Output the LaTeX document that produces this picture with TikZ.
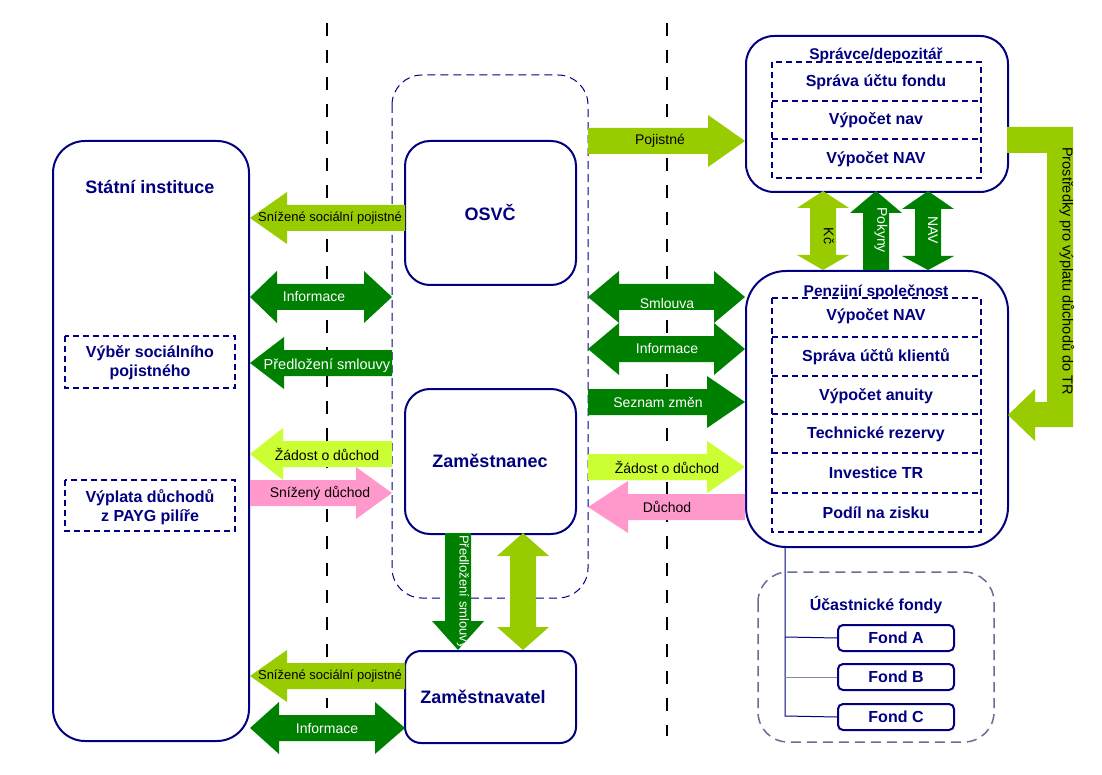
\documentclass[tikz,border=0pt]{standalone}
\usepackage{fontspec}
\setmainfont{Liberation Sans}
\definecolor{lgreen}{HTML}{99CC00}
\definecolor{dgreen}{HTML}{008000}
\definecolor{ygreen}{HTML}{CCFF33}
\definecolor{pinkc}{HTML}{FF99CC}
\definecolor{navyc}{HTML}{000080}
\definecolor{fundgray}{HTML}{6B6B95}
% horizontal single block arrow: fill, tail x, tip x, y, head-base x
\newcommand\blkH[5]{\fill[#1] (#2,#4-13) -- (#5,#4-13) -- (#5,#4-26) -- (#3,#4) -- (#5,#4+26) -- (#5,#4+13) -- (#2,#4+13) -- cycle;}
% horizontal double block arrow: fill, tip1 x, tip2 x, y, base1 x, base2 x
\newcommand\blkD[6]{\fill[#1] (#2,#4) -- (#5,#4-26) -- (#5,#4-13) -- (#6,#4-13) -- (#6,#4-26) -- (#3,#4) -- (#6,#4+26) -- (#6,#4+13) -- (#5,#4+13) -- (#5,#4+26) -- cycle;}
% vertical single block arrow: fill, x, tail y, tip y, head-base y
\newcommand\blkV[5]{\fill[#1] (#2-13,#3) -- (#2-13,#5) -- (#2-26,#5) -- (#2,#4) -- (#2+26,#5) -- (#2+13,#5) -- (#2+13,#3) -- cycle;}
% vertical double block arrow: fill, x, tip1 y, tip2 y, base1 y, base2 y
\newcommand\blkVD[6]{\fill[#1] (#2,#3) -- (#2-26,#5) -- (#2-13,#5) -- (#2-13,#6) -- (#2-26,#6) -- (#2,#4) -- (#2+26,#6) -- (#2+13,#6) -- (#2+13,#5) -- (#2+26,#5) -- cycle;}
\begin{document}
\begin{tikzpicture}[x=1pt,y=-1pt,
  mainbox/.style={draw=navyc, line width=2pt, fill=white, anchor=north west, inner sep=0pt},
  boxtitle/.style={font=\fontsize{18}{20}\selectfont\bfseries, text=navyc, inner sep=0pt},
  subtitle/.style={font=\fontsize{15.5}{18}\selectfont\bfseries, text=navyc, inner sep=0pt},
  rowlabel/.style={font=\fontsize{16}{19}\selectfont\bfseries, text=navyc, inner sep=0pt, align=center},
  arrlabel/.style={font=\fontsize{14}{16}\selectfont, inner sep=0pt},
  whitelbl/.style={arrlabel, text=white},
  blacklbl/.style={arrlabel, text=black},
  innerdash/.style={draw=navyc, line width=1.4pt, dash pattern=on 6pt off 4pt},
  sepline/.style={draw=black, line width=2.8pt, dash pattern=on 13pt off 14pt},
  groupdash/.style={draw=navyc, line width=1pt, dash pattern=on 8pt off 5pt},
  funddash/.style={draw=fundgray, line width=1.5pt, dash pattern=on 10pt off 6pt},
  fundbox/.style={draw=navyc, line width=2pt, rounded corners=5pt, minimum width=116pt, minimum height=26pt, inner sep=0pt, font=\fontsize{16}{19}\selectfont\bfseries, text=navyc},
  treeline/.style={draw=navyc, line width=1pt}
]
\fill[white] (0,0) rectangle (1102,775);
\useasboundingbox (0,0) rectangle (1102,775);

% separating dashed lines
\coordinate (s1top) at (327,23);
\coordinate (s1bot) at (327,708);
\coordinate (s2top) at (667,23);
\coordinate (s2bot) at (667,736);
\draw[sepline] (s1top) -- (s1bot);
\draw[sepline] (s2top) -- (s2bot);

% group around OSVC and Zamestnanec
\draw[groupdash, rounded corners=30pt] (392,75) rectangle (588,598);

% main boxes
\node[mainbox, rounded corners=32pt, minimum width=196pt, minimum height=600pt] (stat) at (52,140) {};
\node[boxtitle] (statT) at (150,187) {Státní instituce};
\draw[innerdash] (65,336) rectangle (235,388);
\node[rowlabel] (vyber) at (150,363) {Výběr sociálního\\pojistného};
\draw[innerdash] (65,480) rectangle (235,531);
\node[rowlabel] (vyplata) at (150,507) {Výplata důchodů\\z PAYG pilíře};

\node[mainbox, rounded corners=25pt, minimum width=171pt, minimum height=144pt] (osvc) at (404,140) {};
\node[boxtitle] (osvcT) at (490,213) {OSVČ};
\node[mainbox, rounded corners=25pt, minimum width=171pt, minimum height=145pt] (zam) at (404,388) {};
\node[boxtitle] (zamT) at (490,461) {Zaměstnanec};
\node[mainbox, rounded corners=16pt, minimum width=171pt, minimum height=92pt] (zav) at (404,650) {};
\node[boxtitle] (zavT) at (483,697) {Zaměstnavatel};

\node[mainbox, rounded corners=28pt, minimum width=262pt, minimum height=156pt] (spr) at (745,35) {};
\draw[innerdash] (772,62) rectangle (981,178);
\draw[innerdash] (772,101) -- (981,101);
\draw[innerdash] (772,139) -- (981,139);
\node[subtitle] (sprT) at (876,55) {Správce/depozitář};
\node[rowlabel] (spr1) at (876,82) {Správa účtu fondu};
\node[rowlabel] (spr2) at (876,120) {Výpočet nav};
\node[rowlabel] (spr3) at (876,159) {Výpočet NAV};

\node[mainbox, rounded corners=40pt, minimum width=262pt, minimum height=276pt] (pen) at (745,270) {};
\draw[innerdash] (772,298) rectangle (981,532);
\foreach \yy in {337,376,414,453,493} \draw[innerdash] (772,\yy) -- (981,\yy);
\node[subtitle] (penT) at (876,292) {Penzijní společnost};
\node[rowlabel] (pen1) at (876,316) {Výpočet NAV};
\node[rowlabel] (pen2) at (876,357) {Správa účtů klientů};
\node[rowlabel] (pen3) at (876,396) {Výpočet anuity};
\node[rowlabel] (pen4) at (876,434) {Technické rezervy};
\node[rowlabel] (pen5) at (876,473) {Investice TR};
\node[rowlabel] (pen6) at (876,513) {Podíl na zisku};

% participant funds
\draw[funddash, rounded corners=30pt] (758,572) rectangle (994,742);
\node[rowlabel] (ucT) at (876,605) {Účastnické fondy};
\node[fundbox, anchor=north west] (fa) at (837,624) {Fond A};
\node[fundbox, anchor=north west] (fb) at (837,663) {Fond B};
\node[fundbox, anchor=north west] (fc) at (837,703) {Fond C};
\coordinate (tree0) at (785,546);
\coordinate (treeA) at (785,637);
\coordinate (treeB) at (785,677);
\coordinate (treeC) at (785,716);
\draw[treeline] (tree0) -- (treeC) -- (fc.west);
\draw[treeline] (treeA) -- (fa.west);
\draw[treeline, draw=fundgray!80] (treeB) -- (fb.west);

% ---- left arrows ----
\blkH{lgreen}{405}{250}{218}{287}
\node[blacklbl, font=\fontsize{13}{15}\selectfont] (a1) at (330,218) {Snížené sociální pojistné};
\blkD{dgreen}{250}{392}{297}{277}{364}
\node[whitelbl] (a2) at (314,297) {Informace};
\blkH{dgreen}{392}{250}{363}{284}
\node[whitelbl, font=\fontsize{14.5}{16}\selectfont] (a3) at (327,366) {Předložení smlouvy};
\blkH{ygreen}{392}{250}{454}{283}
\node[blacklbl] (a4) at (327,454) {Žádost o důchod};
\blkH{pinkc}{250}{392}{493}{356}
\node[blacklbl] (a5) at (320,493) {Snížený důchod};
\blkH{lgreen}{405}{250}{676}{287}
\node[blacklbl, font=\fontsize{13}{15}\selectfont] (a6) at (330,676) {Snížené sociální pojistné};
\blkD{dgreen}{250}{405}{728}{279}{375}
\node[whitelbl] (a7) at (327,728) {Informace};

% ---- right arrows ----
\blkH{lgreen}{588}{745}{141}{708}
\node[blacklbl] (b1) at (660,141) {Pojistné};
\blkD{dgreen}{588}{745}{297}{619}{714}
\node[whitelbl] (b2) at (667,303) {Smlouva};
\blkD{dgreen}{588}{745}{349}{619}{714}
\node[whitelbl] (b3) at (667,349) {Informace};
\blkH{dgreen}{588}{745}{402}{707}
\node[whitelbl] (b4) at (658,402) {Seznam změn};
\blkH{ygreen}{588}{745}{467}{707}
\node[blacklbl] (b5) at (667,467) {Žádost o důchod};
\blkH{pinkc}{745}{588}{507}{628}
\node[blacklbl] (b6) at (667,507) {Důchod};

% ---- vertical arrows ----
\blkVD{lgreen}{823}{191}{270}{208}{255}
\node[blacklbl, rotate=-90] (c1) at (829,236) {Kč};
\blkV{dgreen}{876}{270}{191}{213}
\node[whitelbl, rotate=-90] (c2) at (881,230) {Pokyny};
\blkVD{dgreen}{928}{191}{270}{209}{256}
\node[whitelbl, rotate=-90] (c3) at (933,230) {NAV};

\blkV{dgreen}{458}{533}{650}{621}
\node[whitelbl, rotate=-90, font=\fontsize{13}{15}\selectfont] (c4) at (463,592) {Předložení smlouvy};
\blkVD{lgreen}{523}{533}{650}{556}{627}

% ---- L-shaped arrow to TR ----
\fill[lgreen] (1007,127) -- (1073,127) -- (1073,427) -- (1035,427) -- (1035,441) -- (1008,415) -- (1035,389) -- (1035,402) -- (1047,402) -- (1047,153) -- (1007,153) -- cycle;
\node[blacklbl, rotate=-90, font=\fontsize{14.5}{16}\selectfont] (d1) at (1067,271) {Prostředky pro výplatu důchodů do TR};
\end{tikzpicture}
\end{document}
